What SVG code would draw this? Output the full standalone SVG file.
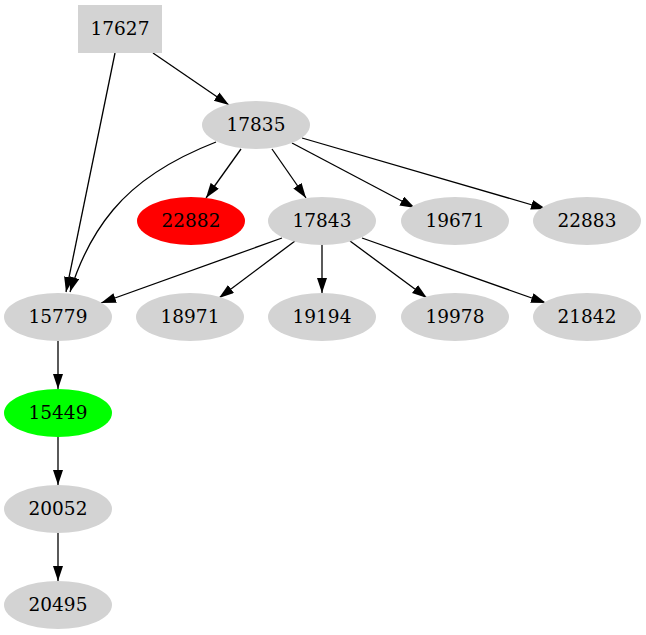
<svg xmlns="http://www.w3.org/2000/svg" width="646" height="635" viewBox="0 0 646 635">
<style>
.n{fill:#d3d3d3;stroke:none}
text{font-family:"DejaVu Serif","Liberation Serif",serif;font-size:18.5px;text-anchor:middle;fill:#000}
.e{fill:none;stroke:#000;stroke-width:1.3;marker-end:url(#a)}
</style>
<defs>
<marker id="a" markerUnits="userSpaceOnUse" markerWidth="16" markerHeight="11" refX="15" refY="5" orient="auto">
<path d="M0,0 L15,5 L0,10 z" fill="#000"/>
</marker>
</defs>
<rect width="646" height="635" fill="#fff"/>
<g id="edges">
<path class="e" d="M115,53 L66,292"/>
<path class="e" d="M153,53 L229,105"/>
<path class="e" d="M216,142 C175,158 138,180 113,210 C92,235 79,263 70,292"/>
<path class="e" d="M241,149 L206,198"/>
<path class="e" d="M272,149 L306,198"/>
<path class="e" d="M292,143 L415,208"/>
<path class="e" d="M302,138 L546,209"/>
<path class="e" d="M282,238 L101,303"/>
<path class="e" d="M295,241 L219,298"/>
<path class="e" d="M322,245 L322,293"/>
<path class="e" d="M350,241 L427,298"/>
<path class="e" d="M362,238 L546,303"/>
<path class="e" d="M58,341 L58,389"/>
<path class="e" d="M58,437 L58,485"/>
<path class="e" d="M58,533 L58,581"/>
</g>
<g id="n17627"><rect class="n" x="78" y="5" width="84" height="48"/><text x="120" y="35">17627</text></g>
<g id="n17835"><ellipse class="n" cx="256" cy="125" rx="54" ry="24"/><text x="256" y="131">17835</text></g>
<g id="n22882"><ellipse cx="191" cy="221" rx="54" ry="24" fill="#ff0000"/><text x="191" y="227">22882</text></g>
<g id="n17843"><ellipse class="n" cx="322" cy="221" rx="54" ry="24"/><text x="322" y="227">17843</text></g>
<g id="n19671"><ellipse class="n" cx="455" cy="221" rx="54" ry="24"/><text x="455" y="227">19671</text></g>
<g id="n22883"><ellipse class="n" cx="587" cy="221" rx="54" ry="24"/><text x="587" y="227">22883</text></g>
<g id="n15779"><ellipse class="n" cx="58" cy="317" rx="54" ry="24"/><text x="58" y="323">15779</text></g>
<g id="n18971"><ellipse class="n" cx="190" cy="317" rx="54" ry="24"/><text x="190" y="323">18971</text></g>
<g id="n19194"><ellipse class="n" cx="322" cy="317" rx="54" ry="24"/><text x="322" y="323">19194</text></g>
<g id="n19978"><ellipse class="n" cx="455" cy="317" rx="54" ry="24"/><text x="455" y="323">19978</text></g>
<g id="n21842"><ellipse class="n" cx="587" cy="317" rx="54" ry="24"/><text x="587" y="323">21842</text></g>
<g id="n15449"><ellipse cx="58" cy="413" rx="54" ry="24" fill="#00ff00"/><text x="58" y="419">15449</text></g>
<g id="n20052"><ellipse class="n" cx="58" cy="509" rx="54" ry="24"/><text x="58" y="515">20052</text></g>
<g id="n20495"><ellipse class="n" cx="58" cy="605" rx="54" ry="24"/><text x="58" y="611">20495</text></g>
</svg>
